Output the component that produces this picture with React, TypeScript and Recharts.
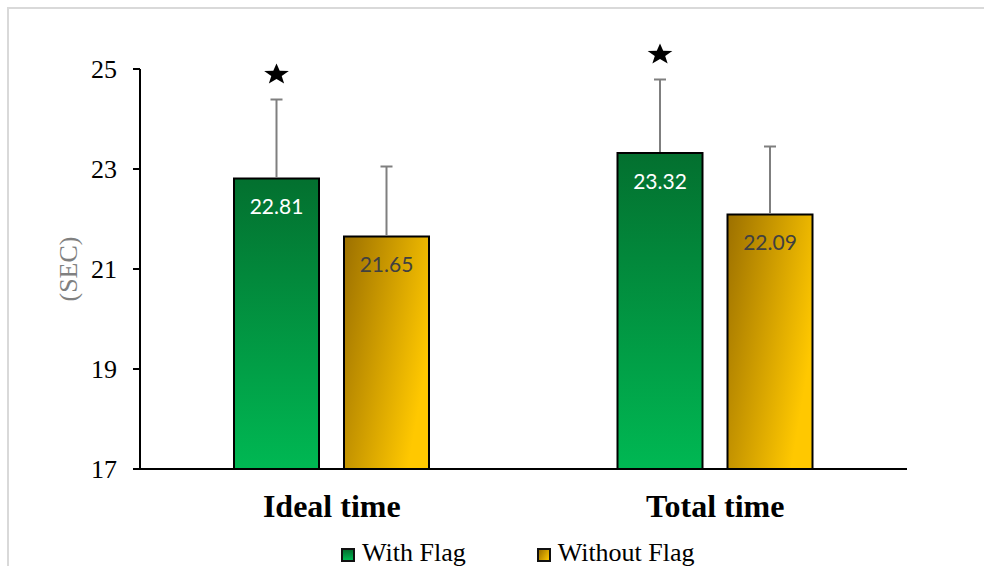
import { Bar, BarChart, LabelList, Legend, XAxis, YAxis } from 'recharts';

const CATEGORIES = ['Ideal time', 'Total time'];
const WITH_FLAG = [22.81, 23.32];
const WITHOUT_FLAG = [21.65, 22.09];
// upper whisker length (SD) for each bar
const WITH_FLAG_SD = [1.58, 1.47];
const WITHOUT_FLAG_SD = [1.4, 1.36];
// significance star above the bar
const WITH_FLAG_SIG = [true, true];
const WITHOUT_FLAG_SIG = [false, false];
const Y_TICKS = [17, 19, 21, 23, 25];
const Y_MIN = 17;
const Y_MAX = 25;

const SERIF = '"Liberation Serif", "Times New Roman", serif';
const LABEL_FONT = 'Lato, "Open Sans", sans-serif';

const data = CATEGORIES.map((name, i) => ({
	name,
	withFlag: WITH_FLAG[i],
	withoutFlag: WITHOUT_FLAG[i],
}));

const starPoints = (cx: number, cy: number, rx: number, ry: number) => {
	const pts: string[] = [];
	for (let k = 0; k < 10; k++) {
		const r = k % 2 === 0 ? 1 : 0.42;
		const a = -Math.PI / 2 + (k * Math.PI) / 5;
		pts.push(`${cx + Math.cos(a) * rx * r},${cy + Math.sin(a) * ry * r}`);
	}
	return pts.join(' ');
};

// whisker, value text and optional star drawn from the bar's own geometry
const barNotes =
	(values: number[], sd: number[], sig: boolean[], textColor: string) =>
	(props: any) => {
		const vb = props.viewBox ?? props;
		const { x, y, width, height } = vb;
		const value = Number(props.value);
		const i = props.index ?? values.indexOf(value);
		const cx = x + width / 2;
		const perUnit = height / (value - Y_MIN);
		const top = y - sd[i] * perUnit;
		return (
			<g>
				<line x1={cx} y1={y - 1} x2={cx} y2={top} stroke="#7f7f7f" strokeWidth={2} />
				<line x1={cx - 6} y1={top} x2={cx + 6} y2={top} stroke="#7f7f7f" strokeWidth={2} />
				<text
					x={cx}
					y={y + 27}
					textAnchor="middle"
					dominantBaseline="central"
					fill={textColor}
					fontSize={21}
					fontFamily={LABEL_FONT}
				>
					{value.toFixed(2)}
				</text>
				{sig[i] && <polygon points={starPoints(cx, top - 25, 13, 11)} fill="#000" />}
			</g>
		);
	};

const LegendBox = () => {
	const item = (label: string, bg: string) => (
		<div style={{ display: 'flex', alignItems: 'center' }}>
			<div
				style={{
					width: 14,
					height: 14,
					boxSizing: 'border-box',
					border: '2px solid #111',
					background: bg,
					marginTop: 3,
				}}
			/>
			<span style={{ marginLeft: 7, fontFamily: SERIF, fontSize: 26, lineHeight: '30px', color: '#000' }}>
				{label}
			</span>
		</div>
	);
	return (
		<div style={{ display: 'flex', gap: 71, height: 30 }}>
			{item('With Flag', 'linear-gradient(180deg, #03702f, #00b853)')}
			{item('Without Flag', 'linear-gradient(120deg, #9c7000, #ffc800)')}
		</div>
	);
};

export default function App() {
	return (
		<div
			style={{
				position: 'fixed',
				left: 0,
				top: 0,
				width: 984,
				height: 566,
				overflow: 'hidden',
				background: '#fff',
			}}
		>
			<div
				style={{
					position: 'absolute',
					left: 7,
					top: 7,
					width: 1100,
					height: 700,
					border: '2px solid #d9d9d9',
				}}
			/>
			<BarChart
				width={984}
				height={566}
				data={data}
				margin={{ top: 69, right: 77, bottom: 8, left: 0 }}
				barSize={85}
				barGap={25}
			>
				<defs>
					<linearGradient id="gradFlag" x1="0" y1="0" x2="0" y2="1">
						<stop offset="0%" stopColor="#03702f" />
						<stop offset="100%" stopColor="#00b853" />
					</linearGradient>
					<linearGradient id="gradNoFlag" x1="0" y1="0" x2="1" y2="0.5">
						<stop offset="0%" stopColor="#9c7000" />
						<stop offset="100%" stopColor="#ffc800" />
					</linearGradient>
				</defs>
				<XAxis
					dataKey="name"
					height={59}
					tickLine={false}
					tickMargin={19}
					axisLine={{ stroke: '#000', strokeWidth: 2 }}
					tick={{ fill: '#000', fontSize: 32, fontWeight: 700, fontFamily: SERIF }}
				/>
				<YAxis
					width={140}
					domain={[Y_MIN, Y_MAX]}
					ticks={Y_TICKS}
					tickSize={7}
					tickMargin={16}
					axisLine={{ stroke: '#000', strokeWidth: 2 }}
					tickLine={{ stroke: '#000', strokeWidth: 2 }}
					tick={{ fill: '#000', fontSize: 26, fontFamily: SERIF }}
					label={{
						value: '(SEC)',
						angle: -90,
						position: 'center',
						dx: -2,
						fill: '#808080',
						fontSize: 26,
						fontFamily: SERIF,
					}}
				/>
				<Legend
					verticalAlign="bottom"
					content={() => <LegendBox />}
					wrapperStyle={{ left: 341, top: 538, bottom: 'auto', width: 420, height: 30 }}
				/>
				<Bar
					dataKey="withFlag"
					name="With Flag"
					fill="url(#gradFlag)"
					stroke="#000"
					strokeWidth={2}
					isAnimationActive={false}
				>
					<LabelList dataKey="withFlag" content={barNotes(WITH_FLAG, WITH_FLAG_SD, WITH_FLAG_SIG, '#ffffff')} />
				</Bar>
				<Bar
					dataKey="withoutFlag"
					name="Without Flag"
					fill="url(#gradNoFlag)"
					stroke="#000"
					strokeWidth={2}
					isAnimationActive={false}
				>
					<LabelList
						dataKey="withoutFlag"
						content={barNotes(WITHOUT_FLAG, WITHOUT_FLAG_SD, WITHOUT_FLAG_SIG, '#404040')}
					/>
				</Bar>
			</BarChart>
		</div>
	);
}
